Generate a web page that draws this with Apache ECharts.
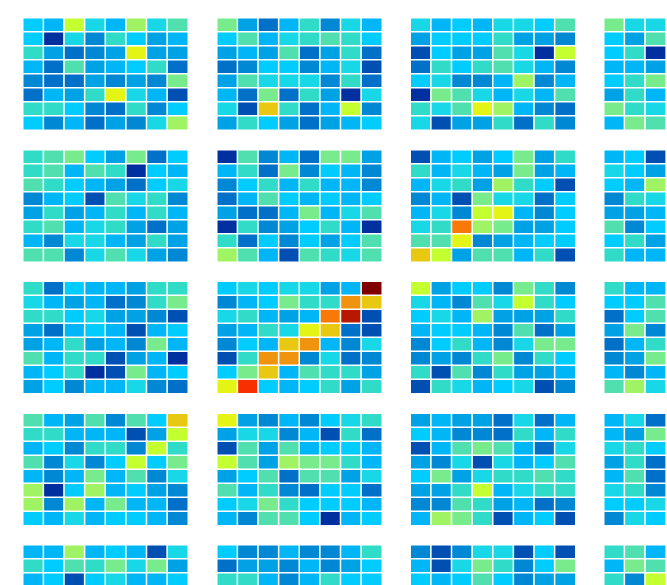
<!DOCTYPE html>
<html>
<head>
<meta charset="utf-8">
<title>heatmap grid</title>
<style>
html, body { margin: 0; padding: 0; background: #fff; overflow: hidden; }
#main { width: 667px; height: 585px; }
</style>
<script src="https://cdn.jsdelivr.net/npm/echarts@6/dist/echarts.min.js"></script>
</head>
<body>
<div id="main"></div>
<script>
// values, 0 (dark blue) to 20 (dark red)
var p00 = [[6,5,12,7,5,11,7,9],[6,0,7,3,8,6,4,5],[8,4,2,3,4,13,4,4],[5,2,9,4,5,6,8,2],[3,2,2,4,3,4,3,10],[2,5,4,8,13,7,5,1],[8,8,6,3,2,8,3,6],[6,3,5,2,4,3,7,11]];
var p01 = [[10,4,2,5,8,3,7,5],[6,9,5,7,8,9,8,6],[4,5,4,9,2,4,8,2],[2,3,6,6,3,5,7,1],[4,9,7,7,7,3,8,2],[5,2,10,2,8,4,0,7],[7,1,14,8,2,5,12,3],[4,8,6,4,2,4,5,6]];
var p02 = [[7,5,6,5,7,7,6,9],[4,6,6,6,8,4,4,3],[1,6,4,4,9,7,0,12],[2,8,6,8,9,7,5,3],[6,7,3,3,5,11,3,5],[0,10,9,7,5,7,5,9],[8,7,9,13,11,5,3,2],[7,1,4,4,8,2,8,3]];
var p03 = [[10,7,7],[6,4,9],[6,8,0],[5,5,4],[6,8,10],[4,8,5],[10,8,7],[5,10,9]];
var p10 = [[8,9,10,6,4,10,2,6],[8,9,5,9,8,0,6,5],[9,8,6,5,4,2,6,7],[3,5,6,1,9,7,8,3],[4,8,4,5,8,5,8,5],[8,9,5,7,8,4,2,4],[5,3,7,7,5,4,8,4],[9,9,3,7,9,7,4,3]];
var p11 = [[0,9,3,5,2,10,10,4],[5,8,2,10,3,6,5,3],[3,6,8,5,8,5,5,3],[2,5,9,6,5,6,5,6],[4,2,2,5,10,5,7,9],[0,8,3,4,6,8,5,0],[8,2,6,3,6,4,6,9],[11,9,5,1,9,8,7,9]];
var p12 = [[1,5,6,4,6,10,4,8],[8,5,7,5,4,10,4,5],[5,7,8,4,11,8,6,1],[3,5,1,10,7,7,2,6],[5,7,3,12,13,5,3,6],[7,8,16,11,10,4,4,6],[9,9,13,3,4,5,6,6],[14,12,4,9,9,5,8,1]];
var p13 = [[5,6,1],[7,6,4],[6,5,11],[3,8,7],[4,4,5],[9,3,6],[6,8,4],[8,5,5]];
var p20 = [[8,2,6,5,5,4,8,8],[7,5,4,5,2,3,8,10],[8,8,6,7,4,4,3,1],[4,2,5,6,5,1,5,6],[4,5,8,4,5,3,10,5],[9,5,8,8,1,4,5,0],[5,6,8,0,1,10,5,6],[4,6,3,5,5,7,3,2]];
var p21 = [[6,7,6,7,7,4,5,20],[3,5,6,10,8,8,15,14],[7,8,5,4,5,16,19,1],[4,5,8,7,13,14,2,1],[3,6,5,14,15,5,3,7],[1,8,15,15,3,7,2,3],[6,10,14,5,9,8,8,4],[13,18,6,5,6,8,4,8]];
var p22 = [[12,4,6,6,3,10,8,3],[7,5,3,9,7,12,8,6],[6,7,5,11,4,4,4,8],[5,6,6,5,3,9,2,4],[3,6,8,5,3,7,10,10],[3,4,3,8,10,3,8,6],[8,1,9,3,8,4,4,5],[1,8,7,5,6,7,1,3]];
var p23 = [[8,5,5],[6,6,9],[2,6,9],[4,10,3],[2,5,8],[3,4,10],[5,3,5],[9,11,7]];
var p30 = [[9,5,4,9,3,9,6,14],[8,8,5,5,5,1,4,12],[5,6,3,8,8,3,12,8],[9,3,7,3,6,12,6,10],[5,3,5,10,5,9,3,7],[11,0,6,11,5,6,4,3],[11,3,11,5,10,5,5,2],[6,5,7,5,6,6,5,3]];
var p31 = [[13,4,3,5,3,6,7,8],[4,7,7,3,5,1,8,2],[1,9,4,9,5,6,6,5],[12,9,4,11,10,10,8,5],[4,6,9,2,9,9,4,7],[9,5,8,3,2,6,6,2],[6,7,10,8,6,6,6,5],[5,3,9,9,6,0,5,6]];
var p32 = [[4,5,4,4,2,7,2,5],[6,5,3,3,2,8,5,8],[1,5,9,10,9,5,2,7],[4,3,7,1,7,5,6,9],[6,10,4,7,8,8,9,8],[4,4,8,12,5,7,8,8],[3,3,9,8,4,5,2,3],[5,11,10,8,1,5,6,1]];
var p33 = [[5,7,2],[5,4,10],[7,8,6],[4,8,2],[5,9,2],[7,8,3],[6,6,7],[3,7,6]];
var p40 = [[5,5,11,5,6,5,1,7],[8,6,9,8,10,7,10,4],[5,6,1,6,7,5,5,6]];
var p41 = [[6,3,3,5,3,3,5,8],[2,4,4,3,5,3,4,6],[8,8,5,3,5,8,6,6]];
var p42 = [[3,1,3,7,7,1,6,1],[5,1,7,10,8,3,6,10],[6,5,6,9,6,3,4,4]];
var p43 = [[8,9,5],[5,10,9],[8,3,12]];

var panels = [
    [p00, p01, p02, p03],
    [p10, p11, p12, p13],
    [p20, p21, p22, p23],
    [p30, p31, p32, p33],
    [p40, p41, p42, p43]
];
var cells = ['0', '1', '2', '3', '4', '5', '6', '7'];

var colLeft = [23, 217, 410.5, 604];
var rowTop = [18, 150, 281.5, 413.5, 545];
var colours = ['#0030a0', '#0050b4', '#0070c8', '#0088d4', '#00a2e6', '#00b6f6', '#00ccff', '#18d8e8',
    '#30dcc8', '#50e0b0', '#78ec8c', '#a0f464', '#c4ff30', '#e4f414', '#e8c810', '#f09410',
    '#f87808', '#f85404', '#f83000', '#b81800', '#800000'];

var chart = echarts.init(document.getElementById('main'));
var grids = [], xAxes = [], yAxes = [], series = [];

panels.forEach(function (row, r) {
    row.forEach(function (panel, c) {
        var idx = grids.length;
        var data = [];
        panel.forEach(function (vals, y) {
            vals.forEach(function (v, x) {
                data.push([x, y, v]);
            });
        });
        // the last row and column run off the page, so no fitting to the canvas
        grids.push({ left: colLeft[c], top: rowTop[r], width: 165, height: 112, outerBoundsMode: 'none' });
        xAxes.push({ type: 'category', data: cells, gridIndex: idx, show: false });
        yAxes.push({ type: 'category', data: cells, gridIndex: idx, inverse: true, show: false });
        series.push({
            type: 'heatmap',
            xAxisIndex: idx,
            yAxisIndex: idx,
            data: data,
            itemStyle: { borderColor: '#fff', borderWidth: 1.5 },
            emphasis: { disabled: true }
        });
    });
});

chart.setOption({
    animation: false,
    backgroundColor: '#fff',
    tooltip: { show: false },
    visualMap: {
        show: false,
        min: 0,
        max: 20,
        seriesIndex: series.map(function (s, i) { return i; }),
        inRange: { color: colours }
    },
    grid: grids,
    xAxis: xAxes,
    yAxis: yAxes,
    series: series
});
</script>
</body>
</html>
